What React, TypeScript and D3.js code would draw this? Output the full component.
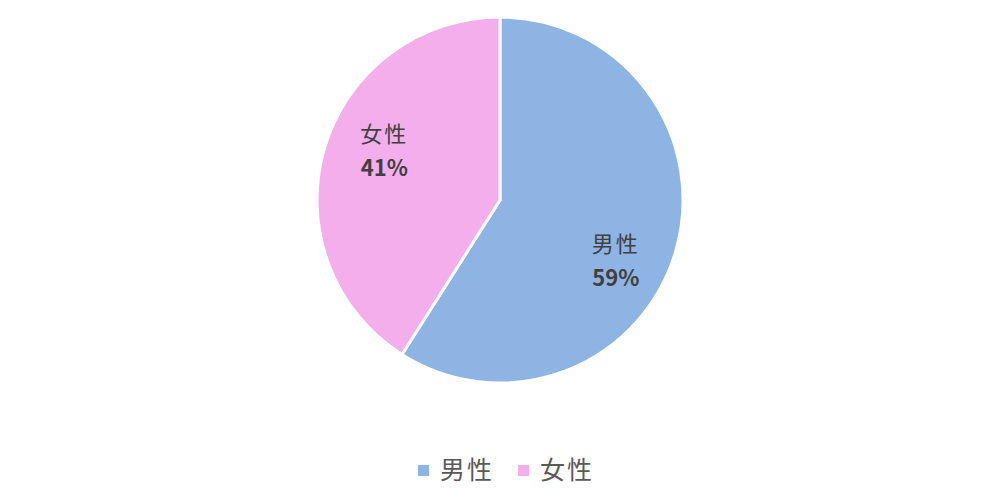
import { useEffect, useRef } from 'react';
import * as d3 from 'd3';

const categories = ['男性', '女性'];
const shares = [59, 41];
const colors = ['#8EB4E3', '#F5AEEC'];

const WIDTH = 1000;
const HEIGHT = 500;
const FONT = '"Noto Sans CJK JP", "Noto Sans", sans-serif';

export default function App() {
  const svgRef = useRef<SVGSVGElement>(null);

  useEffect(() => {
    if (!svgRef.current) return;
    const svg = d3.select(svgRef.current);
    svg.selectAll('*').remove();

    const radius = 183;
    const cx = 500;
    const cy = 200;

    const data = categories.map((name, i) => ({ name, value: shares[i], color: colors[i] }));
    type Datum = (typeof data)[number];

    const pie = d3.pie<Datum>().value((d) => d.value).sort(null);
    const arc = d3.arc<d3.PieArcDatum<Datum>>().innerRadius(0).outerRadius(radius);
    const labelArc = d3
      .arc<d3.PieArcDatum<Datum>>()
      .innerRadius(radius * 0.7)
      .outerRadius(radius * 0.7);

    // Excel-style "best fit" labels sit a little clockwise of the slice middle
    const labelPos = (d: d3.PieArcDatum<Datum>) =>
      labelArc.centroid({ ...d, startAngle: d.startAngle + 0.16, endAngle: d.endAngle + 0.16 });

    const g = svg.append('g').attr('transform', `translate(${cx},${cy})`);

    const arcs = g.selectAll('g.slice').data(pie(data)).join('g').attr('class', 'slice');

    arcs
      .append('path')
      .attr('d', arc)
      .attr('fill', (d) => d.data.color)
      .attr('stroke', 'white')
      .attr('stroke-width', 3);

    const labels = arcs
      .append('text')
      .attr('transform', (d) => `translate(${labelPos(d)})`)
      .attr('text-anchor', 'middle')
      .attr('font-family', FONT)
      .attr('font-size', 22)
      .attr('fill', '#404040');

    labels
      .append('tspan')
      .attr('x', 0)
      .attr('dy', '-0.15em')
      .attr('letter-spacing', 2)
      .text((d) => d.data.name);

    labels
      .append('tspan')
      .attr('x', 0)
      .attr('dy', '1.55em')
      .attr('font-weight', 'bold')
      .text((d) => `${d.data.value}%`);

    // Legend
    const legend = svg.append('g').attr('transform', 'translate(418,470)');
    const item = legend
      .selectAll('g')
      .data(data)
      .join('g')
      .attr('transform', (_, i) => `translate(${i * 100},0)`);

    item
      .append('rect')
      .attr('x', 0)
      .attr('y', -5)
      .attr('width', 11)
      .attr('height', 11)
      .attr('fill', (d) => d.color);

    item
      .append('text')
      .attr('x', 22)
      .attr('y', 0)
      .attr('dy', '0.36em')
      .attr('font-family', FONT)
      .attr('font-size', 25)
      .attr('letter-spacing', 2)
      .attr('fill', '#595959')
      .text((d) => d.name);
  }, []);

  return (
    <svg
      ref={svgRef}
      width={WIDTH}
      height={HEIGHT}
      style={{ position: 'absolute', left: 0, top: 0, background: '#fff' }}
    />
  );
}
